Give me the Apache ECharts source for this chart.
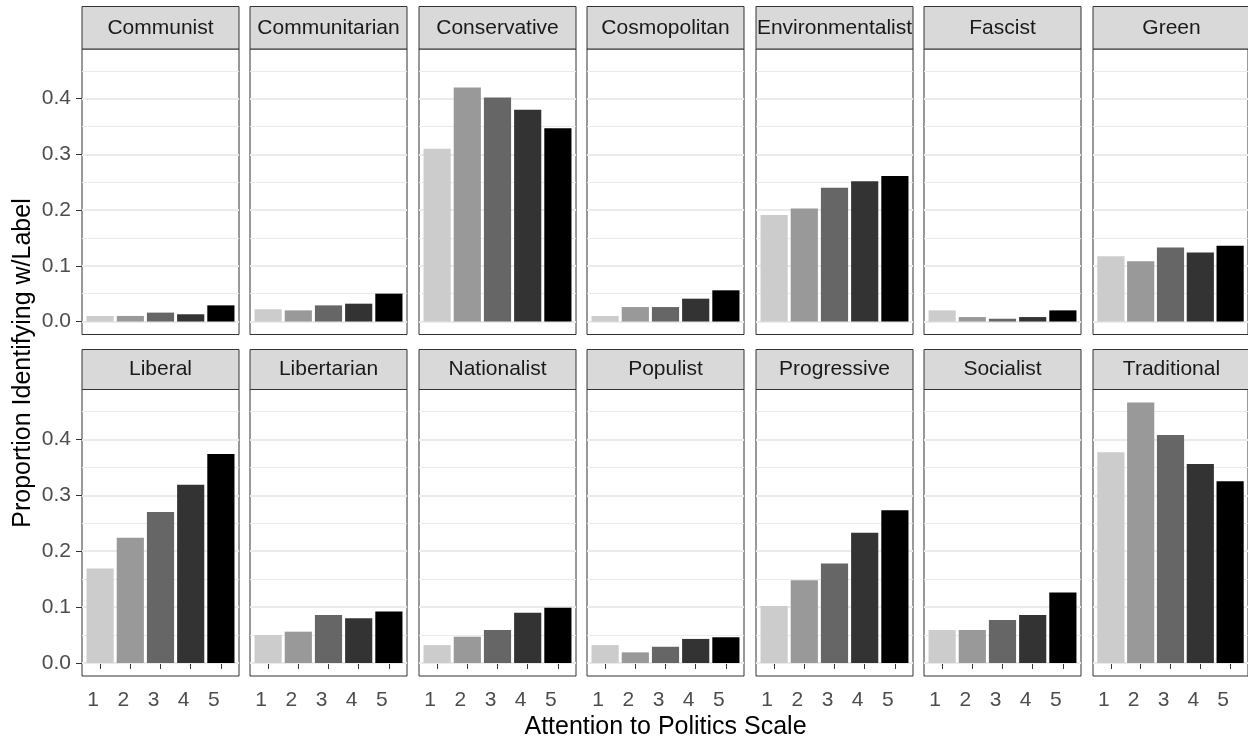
<!DOCTYPE html>
<html>
<head>
<meta charset="utf-8">
<script src="https://cdn.jsdelivr.net/npm/echarts@6/dist/echarts.min.js"></script>
<style>
  html, body { margin: 0; padding: 0; background: #fff; }
  #chart_1 { width: 1248px; height: 744px; }
</style>
</head>
<body>
<div id="chart_1"></div>
<script>
// facet labels, in plot order (2 rows x 7)
var labels = ['Communist', 'Communitarian', 'Conservative', 'Cosmopolitan', 'Environmentalist', 'Fascist', 'Green',
	'Liberal', 'Libertarian', 'Nationalist', 'Populist', 'Progressive', 'Socialist', 'Traditional'];
var scaleLevels = [1, 2, 3, 4, 5];
var levelColors = ['#cccccc', '#999999', '#666666', '#333333', '#000000'];
var yTicks = [0, 0.1, 0.2, 0.3, 0.4];
var yMinorLines = [0.05, 0.15, 0.25, 0.35, 0.45];

// proportion identifying with each label, by attention level 1..5
var communist = [0.010, 0.010, 0.016, 0.013, 0.029];
var communitarian = [0.022, 0.020, 0.029, 0.032, 0.050];
var conservative = [0.310, 0.420, 0.402, 0.380, 0.347];
var cosmopolitan = [0.010, 0.026, 0.026, 0.041, 0.056];
var environmentalist = [0.191, 0.203, 0.240, 0.252, 0.261];
var fascist = [0.020, 0.008, 0.005, 0.008, 0.020];
var green = [0.117, 0.108, 0.133, 0.124, 0.136];
var liberal = [0.169, 0.224, 0.270, 0.319, 0.374];
var libertarian = [0.050, 0.056, 0.086, 0.080, 0.092];
var nationalist = [0.032, 0.047, 0.059, 0.090, 0.099];
var populist = [0.032, 0.019, 0.029, 0.043, 0.046];
var progressive = [0.102, 0.148, 0.178, 0.233, 0.273];
var socialist = [0.059, 0.059, 0.077, 0.086, 0.126];
var traditional = [0.377, 0.466, 0.408, 0.356, 0.325];

var panelValues = [communist, communitarian, conservative, cosmopolitan, environmentalist, fascist, green,
	liberal, libertarian, nationalist, populist, progressive, socialist, traditional];

var FONT = '"Liberation Sans", Arial, sans-serif';

// facet layout (px)
var panelLeft0 = 82;
var panelPitch = 168.45;
var panelW = 157;
var stripTop = [6.5, 349.5];
var stripH = [42.5, 40];
var plotBottom = [334.5, 676];
var yMin = -0.0233, yMax = 0.4892;
var xMin = 0.4, xMax = 5.6;

function makeChart() {
	var myChart = echarts.init(document.getElementById('chart_1'), null, { renderer: 'canvas' });
	var grids = [], xAxes = [], yAxes = [], series = [], graphics = [];
	var barW = 0.9 * panelW / (xMax - xMin);

	for (var i = 0; i < labels.length; i++) {
		var row = Math.floor(i / 7);
		var col = i % 7;
		var left = Math.round(panelLeft0 + col * panelPitch);
		var top = stripTop[row] + stripH[row];

		grids.push({
			left: left,
			top: top,
			width: panelW,
			height: plotBottom[row] - top,
			show: true,
			backgroundColor: '#fff',
			borderColor: '#333333',
			borderWidth: 1
		});

		xAxes.push({
			type: 'value',
			gridIndex: i,
			min: xMin,
			max: xMax,
			axisLine: { show: false },
			splitLine: { show: false },
			axisTick: {
				show: row === 1,
				customValues: scaleLevels,
				length: 6,
				lineStyle: { color: '#333333', width: 1 }
			},
			axisLabel: {
				show: row === 1,
				customValues: scaleLevels,
				margin: 14,
				padding: [0, 14, 0, 0],
				fontSize: 21,
				fontFamily: FONT,
				color: '#4d4d4d'
			}
		});

		yAxes.push({
			type: 'value',
			gridIndex: i,
			min: yMin,
			max: yMax,
			axisLine: { show: false },
			splitLine: { show: false },
			axisTick: {
				show: col === 0,
				customValues: yTicks,
				length: 6,
				lineStyle: { color: '#333333', width: 1 }
			},
			axisLabel: {
				show: col === 0,
				customValues: yTicks,
				margin: 11,
				fontSize: 21,
				fontFamily: FONT,
				color: '#4d4d4d',
				formatter: function (v) { return v.toFixed(1); }
			}
		});

		// grid lines (major + minor) through the y scale
		var lines = [];
		yTicks.forEach(function (v) {
			lines.push({ yAxis: v, lineStyle: { width: 2 } });
		});
		yMinorLines.forEach(function (v) {
			lines.push({ yAxis: v, lineStyle: { width: 1 } });
		});

		series.push({
			type: 'bar',
			xAxisIndex: i,
			yAxisIndex: i,
			barWidth: barW,
			z: 2,
			data: (function (vals) {
				var t = [];
				for (var k = 0; k < scaleLevels.length; k++) {
					t.push({
						value: [scaleLevels[k], vals[k]],
						itemStyle: { color: levelColors[k] }
					});
				}
				return t;
			})(panelValues[i]),
			markLine: {
				silent: true,
				z: 1,
				symbol: 'none',
				animation: false,
				label: { show: false },
				lineStyle: { color: '#ebebeb', type: 'solid' },
				data: lines
			}
		});

		// strip
		graphics.push({
			type: 'rect',
			shape: { x: left, y: stripTop[row], width: panelW, height: stripH[row] },
			style: { fill: '#d9d9d9', stroke: '#333333', lineWidth: 1 },
			z: 10
		});
		graphics.push({
			type: 'text',
			x: left + panelW / 2,
			y: stripTop[row] + stripH[row] / 2,
			style: {
				text: labels[i],
				fontSize: 21,
				fontFamily: FONT,
				fill: '#1a1a1a',
				align: 'center',
				verticalAlign: 'middle'
			},
			z: 11
		});
	}

	// axis titles
	graphics.push({
		type: 'text',
		x: 665.5,
		y: 727,
		style: {
			text: 'Attention to Politics Scale',
			fontSize: 25,
			fontFamily: FONT,
			fill: '#000',
			align: 'center',
			verticalAlign: 'middle'
		}
	});
	graphics.push({
		type: 'text',
		x: 23,
		y: 363,
		rotation: Math.PI / 2,
		style: {
			text: 'Proportion Identifying w/Label',
			fontSize: 25,
			fontFamily: FONT,
			fill: '#000',
			align: 'center',
			verticalAlign: 'middle'
		}
	});

	var option = {
		backgroundColor: '#fff',
		animation: false,
		grid: grids,
		xAxis: xAxes,
		yAxis: yAxes,
		series: series,
		graphic: graphics
	};
	myChart.setOption(option);
	window.addEventListener('resize', function () {
		myChart.resize();
	});
}

makeChart();
</script>
</body>
</html>
